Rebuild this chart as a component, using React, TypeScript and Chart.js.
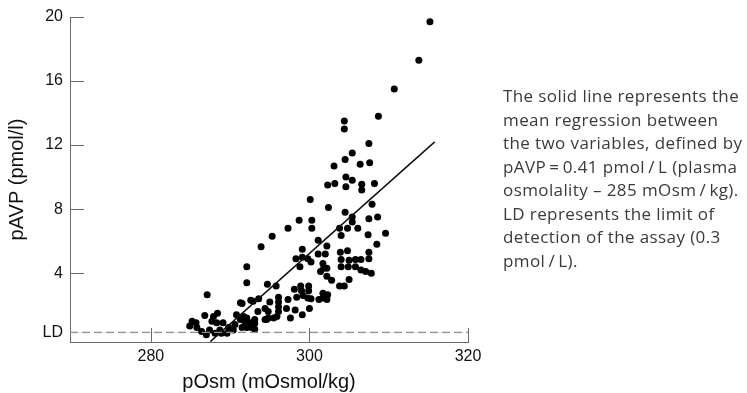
import React, { useEffect, useRef } from "react";
import { Chart, registerables } from "chart.js";

Chart.register(...registerables);

// Scatter values: plasma osmolality (mOsmol/kg) and plasma AVP (pmol/l)
const pOsm: number[] = [
  315.2, 313.8, 310.7, 308.7, 304.4, 304.4, 307.5, 305.4, 303.1, 304.5, 306.4, 307.6, 304.6, 305.4, 302.3, 303.2,
  304.6, 306.6, 306.6, 308.2, 300.1, 302.4, 307.9, 304.5, 305.4, 305.4, 307.5, 308.6, 303.8, 304.8, 306.1,
  298.7, 300.3, 300.3, 297.3, 295.3, 307.4, 309.6, 301.1, 304.0, 293.9, 302.2, 308.5, 299.1, 301.1, 302.0,
  303.9, 304.8, 307.5, 298.3, 299.1, 299.8, 300.2, 298.8, 301.7, 301.8, 301.4, 304.0, 304.0, 305.0, 305.8,
  306.5, 307.5, 304.9, 305.8, 306.5, 307.1, 307.8, 302.8, 305.0, 303.8, 304.4, 294.7, 295.8, 298.1, 298.9,
  299.9, 299.0, 299.9, 299.2, 298.4, 299.8, 300.2, 301.7, 302.3, 301.2, 301.7, 297.3, 296.1, 296.1, 296.1,
  296.1, 295.0, 294.4, 294.8, 295.9, 295.5, 294.4, 294.8, 298.2, 297.6, 299.1, 300.0, 297.1, 293.1, 293.1,
  293.1, 292.1, 292.1, 292.1, 292.1, 292.1, 293.6, 292.9, 291.5, 302.2, 302.2, 302.2,
  287.1, 291.3, 292.6, 286.8, 288.4, 287.9, 285.2, 284.9, 285.7, 285.8, 286.4, 287.4, 287.0, 288.1, 288.7,
  288.3, 289.1, 289.8, 289.6, 290.4, 290.6, 291.3, 290.8, 291.7, 291.9, 292.7, 292.7, 291.5, 288.9, 287.7,
  294.6, 293.5,
];
const pAVP: number[] = [
  19.7, 17.3, 15.5, 13.8, 13.5, 13.0, 12.1, 11.5, 10.7, 11.1, 10.8, 10.9, 10.0, 9.8, 9.5, 9.6,
  9.4, 9.55, 9.2, 9.6, 8.6, 8.1, 8.3, 7.8, 7.5, 7.2, 7.4, 7.5, 6.8, 6.8, 6.8,
  7.3, 7.3, 6.8, 6.8, 6.3, 6.4, 6.5, 6.05, 6.35, 5.65, 5.7, 5.8, 5.5, 5.2, 5.2,
  5.3, 5.4, 5.3, 4.9, 5.0, 4.9, 4.7, 4.4, 4.6, 4.3, 4.1, 4.85, 4.4, 4.8, 4.85,
  4.85, 4.9, 4.4, 4.4, 4.2, 4.1, 4.0, 3.55, 3.6, 3.2, 3.2, 3.3, 3.2, 3.0, 3.2,
  3.2, 2.9, 2.9, 2.6, 2.5, 2.45, 2.4, 2.75, 2.65, 2.35, 2.45, 2.35, 2.5, 2.2, 1.9,
  1.6, 2.2, 1.8, 1.6, 1.3, 1.2, 1.1, 1.2, 1.7, 1.2, 1.4, 1.8, 1.8, 1.1, 0.85,
  0.5, 1.2, 0.9, 0.6, 4.4, 3.4, 2.4, 2.25, 2.1, 4.3, 3.8, 2.35,
  2.65, 2.15, 2.3, 1.35, 1.5, 1.3, 1.0, 0.7, 0.9, 0.6, 0.35, 0.45, 0.15, 0.25, 0.45,
  0.9, 0.9, 0.6, 0.25, 0.45, 0.8, 1.1, 1.4, 1.3, 0.9, 0.9, 0.6, 0.6, 0.25, 1.0,
  1.1, 1.6,
];

// Regression line end points and limit of detection
const regressionOsm: number[] = [287.5, 315.8];
const regressionAVP: number[] = [-0.28, 12.2];
const LD_VALUE = 0.3;
const X_MIN = 269.8;
const X_MAX = 320;
const Y_MIN = -0.3;
const Y_MAX = 20;
const xTickValues: number[] = [280, 300, 320];
const yTickValues: number[] = [LD_VALUE, 4, 8, 12, 16, 20];

const noteLines: string[] = [
  "The solid line represents the",
  "mean regression between",
  "the two variables, defined by",
  "pAVP\u2009=\u20090.41 pmol\u2009/\u2009L (plasma",
  "osmolality \u2013 285 mOsm\u2009/\u2009kg).",
  "LD represents the limit of",
  "detection of the assay (0.3",
  "pmol\u2009/\u2009L).",
];

const AXIS_COLOR = "#6a6a6a";
const TEXT_COLOR = "#111111";
const FONT = "'Liberation Sans', Arial, Helvetica, sans-serif";

const innerTicks = {
  id: "innerTicks",
  afterDraw(chart: any) {
    const { ctx, scales, chartArea } = chart;
    const xs = scales.x;
    const ys = scales.y;
    ctx.save();
    ctx.strokeStyle = AXIS_COLOR;
    ctx.lineWidth = 1;
    ctx.beginPath();
    for (const v of yTickValues) {
      if (v === LD_VALUE) continue;
      const py = Math.round(ys.getPixelForValue(v)) + 0.5;
      ctx.moveTo(chartArea.left, py);
      ctx.lineTo(chartArea.left + 14, py);
    }
    for (const v of xTickValues) {
      const px = Math.round(xs.getPixelForValue(v)) + 0.5;
      ctx.moveTo(px, chartArea.bottom);
      ctx.lineTo(px, chartArea.bottom - 14);
    }
    ctx.stroke();
    ctx.restore();
  },
};

export default function App() {
  const ref = useRef<HTMLCanvasElement | null>(null);

  useEffect(() => {
    if (!ref.current) return;
    const points = pOsm.map((x, i) => ({ x, y: pAVP[i] }));
    const regression = regressionOsm.map((x, i) => ({ x, y: regressionAVP[i] }));
    const ldLine = [
      { x: X_MIN, y: LD_VALUE },
      { x: X_MAX, y: LD_VALUE },
    ];
    const chart = new Chart(ref.current, {
      type: "scatter",
      data: {
        datasets: [
          {
            type: "line",
            data: ldLine,
            borderColor: "#8c8c8c",
            borderWidth: 1.3,
            borderDash: [8, 4],
            pointRadius: 0,
            fill: false,
          },
          {
            type: "line",
            data: regression,
            borderColor: "#111111",
            borderWidth: 1.5,
            pointRadius: 0,
            fill: false,
          },
          {
            type: "scatter",
            data: points,
            backgroundColor: "#000000",
            borderColor: "#000000",
            borderWidth: 0,
            pointRadius: 3.5,
          },
        ],
      } as any,
      options: {
        animation: false,
        responsive: false,
        maintainAspectRatio: false,
        layout: { padding: { left: 0, top: 17, right: 279, bottom: 0 } },
        plugins: { legend: { display: false }, tooltip: { enabled: false } },
        scales: {
          x: {
            type: "linear",
            min: X_MIN,
            max: X_MAX,
            afterBuildTicks: (s: any) => {
              s.ticks = xTickValues.map((value) => ({ value }));
            },
            afterFit: (s: any) => {
              s.height = 51;
            },
            grid: { display: false, drawTicks: false },
            border: { display: true, color: AXIS_COLOR, width: 1 },
            ticks: {
              padding: 5,
              color: TEXT_COLOR,
              font: { family: FONT, size: 16 },
              maxRotation: 0,
              callback: (v: any) => String(v),
            },
            title: {
              display: true,
              text: "pOsm (mOsmol/kg)",
              color: TEXT_COLOR,
              font: { family: FONT, size: 20 },
              padding: { top: 0, bottom: -1 },
            },
          },
          y: {
            type: "linear",
            min: Y_MIN,
            max: Y_MAX,
            afterBuildTicks: (s: any) => {
              s.ticks = yTickValues.map((value) => ({ value }));
            },
            afterFit: (s: any) => {
              s.width = 70;
            },
            grid: { display: false, drawTicks: false },
            border: { display: true, color: AXIS_COLOR, width: 1 },
            ticks: {
              padding: 7,
              color: TEXT_COLOR,
              font: { family: FONT, size: 16 },
              callback: (v: any) => (v === LD_VALUE ? "LD" : String(v)),
            },
            title: {
              display: true,
              text: "pAVP (pmol/l)",
              color: TEXT_COLOR,
              font: { family: FONT, size: 20 },
              padding: { top: 5, bottom: 0 },
            },
          },
        },
      } as any,
      plugins: [innerTicks],
    });
    return () => chart.destroy();
  }, []);

  return (
    <div style={{ position: "fixed", left: 0, top: 0, width: 747, height: 393, background: "#fff" }}>
      <canvas ref={ref} width={747} height={393} style={{ position: "absolute", left: 0, top: 0, width: 747, height: 393 }} />
      <div
        style={{
          position: "absolute",
          left: 503,
          top: 84,
          fontFamily: "'Open Sans', Lato, sans-serif",
          fontSize: 17,
          letterSpacing: "0.4px",
          lineHeight: "23.5px",
          color: "#3a3a3a",
          whiteSpace: "nowrap",
        }}
      >
        {noteLines.map((l, i) => (
          <div key={i}>{l}</div>
        ))}
      </div>
    </div>
  );
}
